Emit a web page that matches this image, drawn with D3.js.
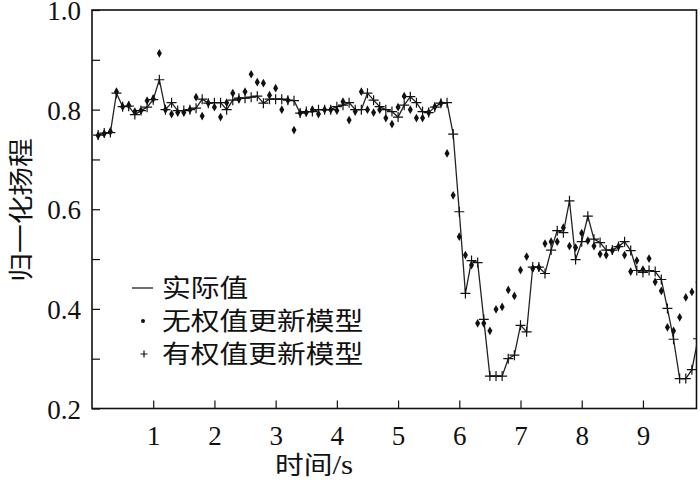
<!DOCTYPE html>
<html lang="zh">
<head>
<meta charset="utf-8">
<title>归一化扬程</title>
<script src="https://d3js.org/d3.v7.min.js"></script>
<style>
  body { margin: 0; background: #fff; }
  svg { display: block; }
  text { fill: #111; }
  .num { font-family: 'Liberation Serif', 'DejaVu Serif', serif; }
  .cjk { font-family: 'Noto Sans CJK SC', sans-serif; }
  .tick line { stroke: #111; stroke-width: 1.2; }
  path.domain { display: none; }
  .frame { fill: none; stroke: #111; stroke-width: 1.6; }
</style>
</head>
<body>
<div id="vis"></div>
<script>
// time axis, 0.1 s sampling
const times = d3.range(1, 100).map(i => i / 10);

// 实际值
const actual = [
  0.749, 0.753, 0.754, 0.833, 0.806, 0.807, 0.790, 0.798, 0.805, 0.820,
  0.860, 0.800, 0.814, 0.798, 0.798, 0.800, 0.803, 0.821, 0.813, 0.814,
  0.814, 0.800, 0.819, 0.823, 0.823, 0.825, 0.827, 0.813, 0.821, 0.821,
  0.821, 0.819, 0.818, 0.793, 0.796, 0.796, 0.800, 0.800, 0.800, 0.806,
  0.809, 0.814, 0.800, 0.800, 0.833, 0.819, 0.806, 0.800, 0.796, 0.785,
  0.809, 0.826, 0.814, 0.796, 0.794, 0.805, 0.813, 0.814, 0.751, 0.595,
  0.431, 0.497, 0.493, 0.379, 0.265, 0.265, 0.265, 0.300, 0.307, 0.367,
  0.354, 0.484, 0.484, 0.471, 0.518, 0.557, 0.553, 0.617, 0.499, 0.535,
  0.586, 0.540, 0.533, 0.518, 0.518, 0.525, 0.535, 0.517, 0.477, 0.473,
  0.477, 0.475, 0.459, 0.401, 0.339, 0.260, 0.260, 0.278, 0.340
];

// 无权值更新模型
const noWeight = [
  0.748, 0.752, 0.756, 0.836, 0.806, 0.809, 0.796, 0.798, 0.818, 0.822,
  0.913, 0.800, 0.791, 0.794, 0.794, 0.800, 0.825, 0.787, 0.813, 0.805,
  0.785, 0.814, 0.833, 0.821, 0.836, 0.871, 0.855, 0.853, 0.829, 0.843,
  0.800, 0.819, 0.759, 0.793, 0.794, 0.800, 0.791, 0.800, 0.800, 0.798,
  0.816, 0.779, 0.796, 0.836, 0.800, 0.794, 0.800, 0.783, 0.771, 0.805,
  0.827, 0.800, 0.783, 0.783, 0.794, 0.806, 0.813, 0.712, 0.628, 0.545,
  0.508, 0.488, 0.371, 0.371, 0.356, 0.399, 0.404, 0.438, 0.426, 0.478,
  0.505, 0.481, 0.483, 0.531, 0.535, 0.535, 0.563, 0.526, 0.523, 0.552,
  0.537, 0.526, 0.510, 0.508, 0.517, 0.525, 0.508, 0.475, 0.497, 0.479,
  0.501, 0.454, 0.436, 0.363, 0.356, 0.383, 0.423, 0.434, 0.454
];

// 有权值更新模型
const withWeight = [
  0.749, 0.753, 0.754, 0.833, 0.806, 0.807, 0.790, 0.798, 0.805, 0.820,
  0.860, 0.800, 0.814, 0.798, 0.798, 0.800, 0.803, 0.821, 0.813, 0.814,
  0.814, 0.800, 0.819, 0.823, 0.823, 0.825, 0.827, 0.813, 0.821, 0.821,
  0.821, 0.819, 0.818, 0.793, 0.796, 0.796, 0.800, 0.800, 0.800, 0.806,
  0.809, 0.814, 0.800, 0.800, 0.833, 0.819, 0.806, 0.800, 0.796, 0.785,
  0.809, 0.826, 0.814, 0.796, 0.794, 0.805, 0.813, 0.814, 0.751, 0.595,
  0.431, 0.497, 0.493, 0.379, 0.265, 0.265, 0.265, 0.300, 0.307, 0.367,
  0.354, 0.484, 0.484, 0.471, 0.518, 0.557, 0.553, 0.617, 0.499, 0.535,
  0.586, 0.540, 0.533, 0.518, 0.518, 0.525, 0.535, 0.517, 0.477, 0.473,
  0.477, 0.475, 0.459, 0.401, 0.339, 0.260, 0.260, 0.278, 0.340
];

const xTicks = [1, 2, 3, 4, 5, 6, 7, 8, 9];
const yTicks = [0.2, 0.3, 0.4, 0.5, 0.6, 0.7, 0.8, 0.9, 1.0];
const yLabelled = [0.2, 0.4, 0.6, 0.8, 1.0];
const legendNames = ["实际值", "无权值更新模型", "有权值更新模型"];
const yTitle = "归一化扬程";

const W = 700, H = 484;
const margin = { top: 10, right: 3.5, bottom: 75.5, left: 92 };
const iw = W - margin.left - margin.right;
const ih = H - margin.top - margin.bottom;
const stretch = 1.15; // glyphs in the reference are a bit wide

const svg = d3.select("#vis").append("svg")
  .attr("width", W).attr("height", H);

const g = svg.append("g")
  .attr("transform", "translate(" + margin.left + "," + margin.top + ")");

const x = d3.scaleLinear().domain([0, 9.875]).range([0, iw]);
const y = d3.scaleLinear().domain([0.2, 1.0]).range([ih, 0]);

svg.append("defs").append("clipPath").attr("id", "plot")
  .append("rect").attr("width", iw).attr("height", ih);

/* Axes */
const xAxis = d3.axisBottom(x)
  .tickValues(xTicks)
  .tickSize(-8)
  .tickPadding(17)
  .tickFormat(d3.format("d"));

g.append("g")
  .attr("transform", "translate(0," + ih + ")")
  .call(xAxis)
  .attr("font-family", "Liberation Serif")
  .selectAll("text")
  .attr("class", "num")
  .attr("font-family", "Liberation Serif")
  .attr("font-size", 27);

const yAxis = d3.axisLeft(y)
  .tickValues(yTicks)
  .tickSize(-8)
  .tickPadding(11)
  .tickFormat(d => yLabelled.some(v => Math.abs(v - d) < 1e-6) ? d3.format(".1f")(d) : "");

g.append("g")
  .call(yAxis)
  .attr("font-family", "Liberation Serif")
  .selectAll("text")
  .attr("class", "num")
  .attr("font-family", "Liberation Serif")
  .attr("font-size", 27)
  .attr("dy", "0.36em");

g.append("rect").attr("class", "frame")
  .attr("width", iw).attr("height", ih);

/* Series */
const plot = g.append("g").attr("clip-path", "url(#plot)");

const line = d3.line()
  .x((d, i) => x(times[i]))
  .y(d => y(d));

plot.append("path")
  .datum(actual)
  .attr("d", line)
  .attr("fill", "none")
  .attr("stroke", "#222")
  .attr("stroke-width", 1.3);

const diamond = d3.symbol().type(d3.symbolDiamond).size(22);

plot.selectAll(".dot")
  .data(noWeight).enter()
  .append("path")
  .attr("class", "dot")
  .attr("d", diamond)
  .attr("transform", (d, i) => "translate(" + x(times[i]) + "," + y(d) + ")")
  .attr("fill", "#111");

const cross = function (cx, cy, s) {
  return "M" + (cx - s) + "," + cy + "H" + (cx + s) + "M" + cx + "," + (cy - s) + "V" + (cy + s);
};

plot.selectAll(".plus")
  .data(withWeight).enter()
  .append("path")
  .attr("class", "plus")
  .attr("d", (d, i) => cross(x(times[i]), y(d), 5))
  .attr("stroke", "#111")
  .attr("stroke-width", 1.2)
  .attr("fill", "none");

/* Legend */
const legend = svg.append("g");
const rowY = [288, 321, 354];

legend.append("line")
  .attr("x1", 132).attr("x2", 153)
  .attr("y1", rowY[0]).attr("y2", rowY[0])
  .attr("stroke", "#222").attr("stroke-width", 1.3);

legend.append("circle")
  .attr("cx", 143).attr("cy", rowY[1]).attr("r", 2)
  .attr("fill", "#111");

legend.append("path")
  .attr("d", cross(144, rowY[2], 3.5))
  .attr("stroke", "#111").attr("stroke-width", 1.2);

legend.selectAll(".lab")
  .data(legendNames).enter()
  .append("text")
  .attr("class", "lab cjk")
  .attr("transform", (d, i) => "translate(162," + rowY[i] + ") scale(" + stretch + ",1)")
  .attr("dy", "0.36em")
  .attr("font-size", 25)
  .text(d => d);

/* Titles */
const xt = svg.append("text")
  .attr("transform", "translate(314,474) scale(" + stretch + ",1)")
  .attr("text-anchor", "middle")
  .attr("font-size", 25);
xt.append("tspan").attr("class", "cjk").text("时间");
xt.append("tspan").attr("class", "num").attr("font-size", 27).text("/s");

svg.append("text")
  .attr("class", "cjk")
  .attr("transform", "translate(30,210) rotate(-90) scale(" + stretch + ",1)")
  .attr("text-anchor", "middle")
  .attr("font-size", 25)
  .text(yTitle);
</script>
</body>
</html>
